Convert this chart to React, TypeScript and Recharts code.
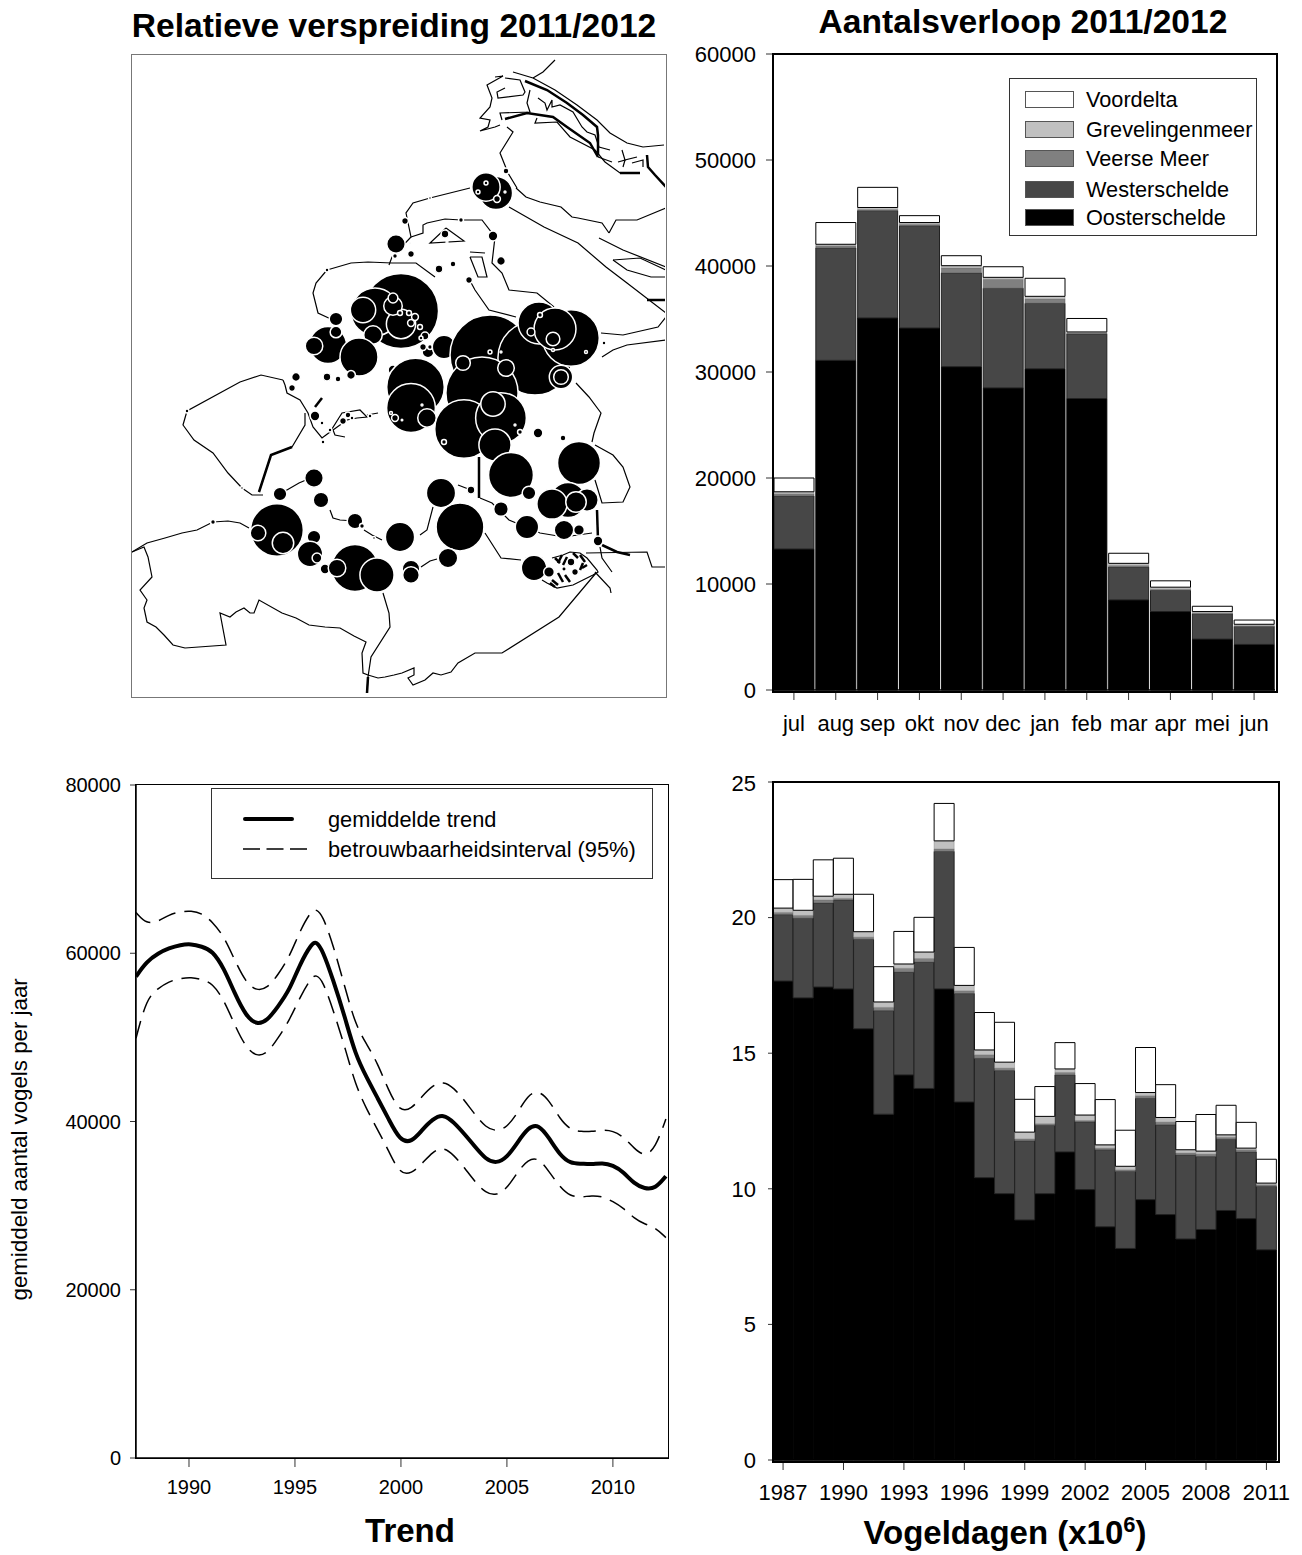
import React from 'react';
import { BarChart, Bar, XAxis, YAxis, ZAxis, Legend, LineChart, Line, ScatterChart, Scatter } from 'recharts';

const FONT = '"Liberation Sans", Arial, sans-serif';

// ---------- top right: monthly counts ----------
const months = ['jul','aug','sep','okt','nov','dec','jan','feb','mar','apr','mei','jun'];
const mOoster = [13300,31100,35100,34150,30500,28500,30300,27500,8500,7400,4800,4300];
const mWester = [5000,10600,10120,9650,8840,9400,6180,6080,3100,2000,2400,1700];
const mVeerse = [200,200,100,150,460,840,400,100,150,100,50,50];
const mGrevel = [200,150,200,150,230,190,260,100,200,200,150,150];
const mVoor = [1300,2050,1900,650,940,1000,1700,1270,950,600,500,400];
const monthTable = months.map((m, i) => ({ m, o: mOoster[i], w: mWester[i], v: mVeerse[i], g: mGrevel[i], d: mVoor[i] }));

// ---------- bottom right: bird days ----------
const seasons = [1987,1988,1989,1990,1991,1992,1993,1994,1995,1996,1997,1998,1999,2000,2001,2002,2003,2004,2005,2006,2007,2008,2009,2010,2011];
const yOoster = [17.66,17.04,17.44,17.37,15.9,12.75,14.2,13.7,17.37,13.2,10.41,9.82,8.85,9.82,11.36,9.97,8.6,7.8,9.6,9.05,8.15,8.5,9.2,8.9,7.75];
const yWester = [2.45,2.94,3.1,3.28,3.3,3.82,3.79,4.66,5.07,4.0,4.4,4.54,2.92,2.52,2.84,2.5,2.84,2.84,3.74,3.31,3.1,2.69,2.63,2.46,2.34];
const yVeerse = [0.08,0.1,0.11,0.06,0.08,0.12,0.14,0.13,0.09,0.1,0.13,0.09,0.07,0.06,0.09,0.05,0.06,0.06,0.09,0.1,0.07,0.09,0.07,0.08,0.06];
const yGrevel = [0.16,0.19,0.14,0.15,0.2,0.2,0.16,0.24,0.3,0.2,0.18,0.22,0.25,0.27,0.13,0.2,0.12,0.13,0.12,0.17,0.12,0.11,0.09,0.06,0.06];
const yVoor = [1.05,1.14,1.34,1.33,1.38,1.3,1.2,1.28,1.38,1.4,1.38,1.47,1.21,1.1,0.97,1.16,1.67,1.33,1.66,1.21,1.04,1.35,1.09,0.95,0.88];
const seasonTable = seasons.map((y, i) => ({ y, o: yOoster[i], w: yWester[i], v: yVeerse[i], g: yGrevel[i], d: yVoor[i] }));

// ---------- bottom left: trend ----------
const trendYears = [1987.5,1988,1988.55,1989.05,1989.6,1990.1,1990.6,1991.1,1991.65,1992.15,1992.7,1993.2,1993.7,1994.2,1994.75,1995.25,1995.8,1996,1996.3,1996.8,1997.35,1997.85,1998.4,1998.9,1999.4,1999.95,2000.5,2001,2001.5,2002,2002.5,2003,2003.5,2004,2004.5,2005,2005.5,2006,2006.5,2007,2007.5,2008,2008.5,2009,2009.5,2010,2010.5,2011,2011.5,2012,2012.5];
const trendMean = [57230,59020,60000,60600,61000,61120,60800,60330,58220,55250,52480,51490,52000,53670,55650,58820,61200,61400,60400,56840,52480,47920,45150,42770,40390,37700,37500,39000,40300,40900,39900,38500,37000,35500,35000,35700,37500,39300,39700,38000,36000,35000,35000,34900,35100,34800,34000,32600,32000,32000,33500];
const trendUpper = [64850,63450,63770,64570,64960,65040,64760,63770,61990,59210,56440,55530,55840,57430,59610,62780,65160,65200,64570,61000,56040,51490,49110,46930,43760,41100,41500,43000,44300,44800,44000,42500,40800,39300,38800,39300,41000,43200,43700,42500,40300,39000,38800,38800,39000,38900,38200,36800,35800,36800,40300];
const trendLower = [49900,54650,55840,56640,57030,57160,56910,56440,54460,51490,48710,47720,48110,49900,52080,54860,57230,57400,56840,53270,48910,44350,41380,39000,36620,33700,33800,35000,36400,37000,36000,34500,32800,31500,31200,32000,34000,35500,35700,34000,32200,31100,31000,31200,31100,30500,29700,28500,27800,27400,26200];
const trendTable = trendYears.map((t, i) => ({ t, mean: trendMean[i], up: trendUpper[i], lo: trendLower[i] }));

// ---------- top left: map (map grid units; third value = sqrt of the count) ----------
const sites: number[][] = [
[496,193,17],[486,187,14.5],[486,183,2],[478,192,2],[505,192,1],[497,199,3.5],[506,171,3],[430,198,1.5],[405,221,3.5],[396,244,9.5],[395,256,2.5],[411,254,3.5],[445,234,4],[461,220,2.5],[493,236,5],[501,261,4.5],[439,269,4],[453,264,3],[469,280,3.5],[327,270,2],[410,243,1],[447,242,1],
[401,311,38.5],[375,312,24.5],[363,310,13],[401,324,15],[393,306,9.5],[393,298,5],[373,335,9.5],[409,313,2.5],[415,317,3.5],[411,323,3.5],[420,327,2.5],[400,313,2.5],[425,336,4],[421,338,2],[428,352,6],[423,347,3.5],[430,347,2.5],[444,347,12],
[336,319,7],[328,345,19],[336,332,6],[314,346,9],[359,357,19.5],[393,370,5],
[415.5,387,29.5],[490,355,41],[535,358,38],[571,338,29],[539,323,21.5],[555,329,21.5],[540,315,2.5],[531,332,4],[553,339,7],[586,352,1.5],[553,350,1.5],[490,352,2],[501,352,1],[604,343,2],
[561,377,12],[561,377,7.5],[296,377,4.5],[327,377,4],[338,379,3],[351,375,4.5],
[482,393,37],[463,363,7.5],[506,368,8.5],[411,408,25],[427,418,9.5],[395,418,3.5],[391,413,1.5],[422,405,1],[402,420,0.8],
[464,429,30],[501,418,26],[493,404,12.5],[495,445,16.5],[444,442,2.5],[515,425,1],[520,432,2.5],[538,433,5],[563,438,3],
[579,463,22],[511,475,23],[529,493,7],[568,500,18],[552,504,15.5],[587,500,11.5],[576,502,10.5],[441,493,15],[471,490,4],[501,509,7.5],[527,527,12],[564,530,10],[579,530,5.5],[598,541,5],
[460,527,24.5],[448,558,10],[400,537,15],[355,521,8],[362,526,2.5],[374,538,1.5],[314,478,9.5],[321,500,8],[280,494,7],
[277,530,27],[258,533,8],[283,543,11],[314,537,7],[310,554,13],[317,558,5],[325,569,5],[355,568,24],[337,568,9],[377,575,17.5],[411,569,9],[411,575,8.5],
[534,568,13],[549,572,5.5],[571,562,4],[575,572,3.5],[564,569,2.3],[213,522,2.5],[187,411,2],[242,488,1.5],[315,416,5],[343,421,3.5],[348,415,3],[352,418,2],[322,423,2],[330,430,2],[323,442,2],[370,416,2],[292,388,3.5],[426,523,1],
];
const siteTable = sites.map(([x, y, r]) => ({ x, y, z: r * r }));

const coastLines: number[][][] = [
[[132,552],[144,547],[148,557],[152,577],[140,590],[147,600],[144,608],[147,622],[156,627],[164,635],[173,645],[185,648],[226,645],[220,613],[230,617],[236,612],[244,608],[250,613],[254,613],[259,600],[282,613],[296,618],[309,625],[325,627],[340,628],[354,636],[366,642],[362,653],[363,673],[368,675],[378,678],[385,677],[394,675],[402,673],[414,668],[414,675],[408,678],[413,685],[425,680],[433,673],[441,675],[451,672],[458,663],[475,653],[502,653],[559,617],[596,573]],
[[383,593],[389,613],[390,627],[371,657],[368,677],[367,693]],
[[132,552],[147,543],[165,538],[182,533],[197,530],[213,522],[228,521],[240,523],[249,528]],
[[283,380],[261,375],[240,382],[187,411],[183,425],[194,440],[213,453],[228,473],[242,488],[252,495],[263,495]],
[[259,492],[271,455],[292,447],[305,425],[305,413]],
[[285,385],[287,393],[300,400],[308,413],[313,427],[322,438],[330,432],[342,413],[360,410],[367,417],[357,418],[347,420],[333,430],[335,435],[345,437]],
[[367,415],[378,413]],
[[285,385],[283,380]],
[[280,494],[299,483],[313,477]],[[330,510],[333,518],[340,520],[355,521]],[[364,530],[372,535],[382,540]],[[420,535],[427,530],[433,507]],[[458,485],[471,490]],
[[480,498],[492,503],[509,520],[540,533],[564,537],[592,533]],
[[485,533],[501,558],[521,560]],[[421,567],[430,561],[437,559]],
[[552,558],[563,555],[570,552],[580,553],[587,558],[597,570],[598,572],[593,575],[573,585],[557,588],[547,583],[542,580]],
[[586,553],[647,552],[652,567],[666,567]],[[600,547],[602,558],[612,572]],[[595,572],[610,588],[611,593]],
[[576,383],[589,397],[601,413],[594,433],[592,442]],
[[595,445],[613,455],[623,467],[630,487],[623,502],[602,503],[595,480]],
[[327,270],[351,263],[368,262],[392,263],[416,263],[435,277]],
[[327,270],[316,283],[313,293],[318,313],[333,320]],
[[470,188],[430,198],[413,203],[406,213],[411,237],[392,257],[389,265]],
[[411,237],[423,233],[423,225],[427,223],[445,219],[461,220],[482,220],[495,237],[492,263],[502,273],[509,290],[537,293],[554,307]],
[[468,277],[475,290],[489,310],[516,317]],
[[601,333],[623,335],[658,327],[666,317]],
[[602,357],[613,350],[627,345],[666,340]],
[[509,207],[544,227],[578,243],[606,267],[627,283],[666,313]],
[[516,188],[526,197],[540,202],[561,207],[572,217],[578,218],[602,223],[609,233]],
[[609,233],[616,220],[637,220],[666,208]],
[[599,238],[623,250],[666,267]],
[[613,260],[627,270],[651,277],[666,277]],[[613,260],[640,258],[666,270]],
[[555,60],[543,72],[533,78]],
[[513,72],[533,78],[555,90],[577,105],[597,120],[610,133],[627,143],[643,147],[664,145]],
[[495,77],[503,76],[487,85],[492,98],[490,107],[480,118],[490,120],[488,127],[480,131],[495,127],[500,125]],
[[505,78],[520,80],[525,92],[523,95],[498,98],[497,92],[505,88]],
[[530,90],[527,103],[530,112],[500,113],[502,120]],
[[538,98],[545,103],[547,110],[552,100],[552,107],[560,105],[573,112],[582,127],[587,132],[595,135],[599,147],[610,150]],
[[537,118],[535,123],[557,122],[570,137],[595,150],[605,162],[620,173],[640,173]],
[[598,157],[612,162]],
[[622,150],[625,160],[618,162]],[[637,157],[625,160],[623,167]],[[632,163],[643,160],[643,167]],
[[507,127],[513,132],[500,153],[508,173],[517,188]],
[[446,228],[430,243],[464,241],[446,228]],
[[470,252],[485,253]],
[[470,257],[478,277],[487,277],[482,257],[470,257]],
];
const coastTables = coastLines.map((l) => l.map(([x, y]) => ({ x, y })));

const dikeLines: number[][][] = [
[[479,457],[479,498]],[[597,510],[598,540]],[[602,545],[617,552],[630,555]],[[647,300],[666,300]],
[[368,677],[367,693]],[[259,492],[271,455],[292,447]],[[647,155],[648,167],[655,175],[666,187]],
[[525,81],[547,90],[567,103],[583,115],[597,127],[598,135],[598,155]],
[[505,119],[527,113],[553,117],[567,127],[590,143],[598,157]],
[[322,398],[315,407]],[[620,173],[640,173]],
[[555,558],[560,563]],[[562,555],[558,563]],[[567,557],[563,565]],[[573,553],[578,558]],[[580,555],[585,562]],[[583,563],[580,570]],[[587,565],[582,568]],[[558,573],[563,582]],[[565,575],[570,582]],[[552,580],[558,585]],[[550,583],[555,587]],
];
const dikeTables = dikeLines.map((l) => l.map(([x, y]) => ({ x, y })));

const legendRows = [
  ['Voordelta', '#ffffff'],
  ['Grevelingenmeer', '#c0c0c0'],
  ['Veerse Meer', '#808080'],
  ['Westerschelde', '#474747'],
  ['Oosterschelde', '#000000'],
];
const legendRowTops = [13, 43, 72, 103, 131];

const abs = (l: number, t: number, w: number, h: number): React.CSSProperties => ({ position: 'absolute', left: l, top: t, width: w, height: h });

const Title = ({ cx, top, size, children }: any) => (
  <div style={{ position: 'absolute', left: cx - 400, width: 800, top, textAlign: 'center', fontFamily: FONT, fontWeight: 700, fontSize: size, lineHeight: `${size + 4}px`, color: '#000' }}>{children}</div>
);

const Frame = ({ l, t, r, b, color = '#000', w = 2 }: any) => (
  <div style={{ position: 'absolute', left: l - w / 2, top: t - w / 2, width: r - l, height: b - t, border: `${w}px solid ${color}`, pointerEvents: 'none' }} />
);

const StackLegend = () => (
  <div style={{ position: 'relative', width: 248, height: 158, background: '#fff', border: '1px solid #333', boxSizing: 'border-box', fontFamily: FONT, fontSize: 21.7 }}>
    {legendRows.map(([name, c], i) => (
      <React.Fragment key={name}>
        <div style={{ position: 'absolute', left: 15, top: legendRowTops[i] - 1, width: 49, height: 17, background: c, border: '1px solid #555', boxSizing: 'border-box' }} />
        <div style={{ position: 'absolute', left: 76, top: legendRowTops[i] - 4, lineHeight: '24px', whiteSpace: 'nowrap', color: '#000', textAlign: 'left' }}>{name}</div>
      </React.Fragment>
    ))}
  </div>
);

const TrendLegend = () => (
  <div style={{ position: 'relative', width: 442, height: 91, background: '#fff', border: '1px solid #333', boxSizing: 'border-box', fontFamily: FONT, fontSize: 21.8, color: '#000' }}>
    <div style={{ position: 'absolute', left: 31, top: 28, width: 51, height: 4, background: '#000', borderRadius: 2 }} />
    <svg style={{ position: 'absolute', left: 31, top: 59 }} width="64" height="3"><line x1="0" y1="1" x2="64" y2="1" stroke="#000" strokeWidth="1.5" strokeDasharray="17 6.5" /></svg>
    <div style={{ position: 'absolute', left: 116, top: 19, lineHeight: '24px', whiteSpace: 'nowrap' }}>gemiddelde trend</div>
    <div style={{ position: 'absolute', left: 116, top: 49, lineHeight: '24px', whiteSpace: 'nowrap' }}>betrouwbaarheidsinterval (95%)</div>
  </div>
);

const tickBig = { fontFamily: FONT, fontSize: 22, fill: '#000' };
const tickSmall = { fontFamily: FONT, fontSize: 20, fill: '#000' };
const axisLine = { stroke: '#000', strokeWidth: 1.5 };
const tickLine = { stroke: '#333', strokeWidth: 1 };

const stackBars = (strokeW: number) => (
  <>
    <Bar dataKey="o" stackId="s" fill="#000000" stroke="#000" strokeWidth={strokeW} isAnimationActive={false} />
    <Bar dataKey="w" stackId="s" fill="#474747" stroke="#222" strokeWidth={strokeW} isAnimationActive={false} />
    <Bar dataKey="v" stackId="s" fill="#808080" stroke="#555" strokeWidth={0.5} isAnimationActive={false} />
    <Bar dataKey="g" stackId="s" fill="#c0c0c0" stroke="#888" strokeWidth={0.5} isAnimationActive={false} />
    <Bar dataKey="d" stackId="s" fill="#ffffff" stroke="#000" strokeWidth={strokeW} isAnimationActive={false} />
  </>
);

export default function App() {
  return (
    <div style={{ position: 'absolute', left: 0, top: 0, width: 1302, height: 1555, background: '#fff', overflow: 'hidden' }}>
      <Title cx={394} top={7} size={33.6}>Relatieve verspreiding 2011/2012</Title>
      <Title cx={1023} top={3} size={33.6}>Aantalsverloop 2011/2012</Title>
      <Title cx={410} top={1512} size={33}>Trend</Title>
      <Title cx={1005} top={1514} size={33}>Vogeldagen (x10<sup style={{ fontSize: 22, lineHeight: 0 }}>6</sup>)</Title>

      {/* map */}
      <div style={abs(131, 54, 534, 642)}>
        <ScatterChart width={534} height={642} margin={{ top: 0, right: 0, bottom: 0, left: 0 }}>
          <XAxis type="number" dataKey="x" domain={[131, 665]} allowDataOverflow hide />
          <YAxis type="number" dataKey="y" domain={[54, 696]} allowDataOverflow reversed hide width={0} />
          <ZAxis type="number" dataKey="z" domain={[0, 1600]} range={[0, Math.PI * 1600]} />
          {coastTables.map((t, i) => (
            <Scatter key={i} data={t} line={{ stroke: '#000', strokeWidth: 1.2 }} lineType="joint" shape={() => null as any} isAnimationActive={false} />
          ))}
          {dikeTables.map((t, i) => (
            <Scatter key={'d' + i} data={t} line={{ stroke: '#000', strokeWidth: 2.5 }} lineType="joint" shape={() => null as any} isAnimationActive={false} />
          ))}
          <Scatter data={siteTable} fill="#000" stroke="#fff" strokeWidth={1.5} isAnimationActive={false} />
        </ScatterChart>
      </div>
      <Frame l={131} t={54} r={665} b={696} color="#777" w={1} />

      {/* monthly */}
      <div style={abs(690, 40, 600, 700)}>
        <BarChart width={600} height={700} data={monthTable} margin={{ top: 14, right: 15, bottom: 0, left: 0 }} barCategoryGap={1}>
          <XAxis dataKey="m" tick={tickBig} axisLine={axisLine} tickLine={tickLine} tickSize={10} tickMargin={15} height={50} interval={0} />
          <YAxis width={83} domain={[0, 60000]} ticks={[0,10000,20000,30000,40000,50000,60000]} tick={tickBig} axisLine={axisLine} tickLine={tickLine} tickSize={7} tickMargin={10} />
          {stackBars(1)}
          <Legend layout="vertical" align="center" verticalAlign="middle" content={() => <StackLegend />} wrapperStyle={{ position: 'absolute', left: 319, top: 38, width: 248, height: 158 }} />
        </BarChart>
      </div>
      <Frame l={773} t={54} r={1275} b={690} />

      {/* trend */}
      <div style={abs(0, 770, 690, 730)}>
        <LineChart width={690} height={730} data={trendTable} margin={{ top: 15, right: 22, bottom: 0, left: 0 }}>
          <XAxis type="number" dataKey="t" domain={[1987.5, 2012.6]} allowDataOverflow ticks={[1990,1995,2000,2005,2010]} tick={tickSmall} axisLine={axisLine} tickLine={tickLine} tickSize={9} tickMargin={13} height={42} />
          <YAxis width={136} domain={[0, 80000]} ticks={[0,20000,40000,60000,80000]} tick={tickSmall} axisLine={axisLine} tickLine={tickLine} tickSize={6} tickMargin={9}
            label={{ value: 'gemiddeld aantal vogels per jaar', angle: -90, position: 'insideLeft', offset: 19, dy: 179, style: { fontFamily: FONT, fontSize: 22.3, fill: '#000' } }} />
          <Line type="basis" dataKey="up" stroke="#000" strokeWidth={1.5} strokeDasharray="18 9" dot={false} isAnimationActive={false} />
          <Line type="basis" dataKey="lo" stroke="#000" strokeWidth={1.5} strokeDasharray="18 9" dot={false} isAnimationActive={false} />
          <Line type="basis" dataKey="mean" stroke="#000" strokeWidth={4} dot={false} isAnimationActive={false} />
          <Legend layout="vertical" align="center" verticalAlign="middle" content={() => <TrendLegend />} wrapperStyle={{ position: 'absolute', left: 211, top: 18, width: 442, height: 91 }} />
        </LineChart>
      </div>
      <Frame l={136} t={785} r={668} b={1458} w={1.5} />

      {/* bird days */}
      <div style={abs(690, 770, 610, 760)}>
        <BarChart width={610} height={760} data={seasonTable} margin={{ top: 12, right: 23.5, bottom: 0, left: 0 }} barCategoryGap={0}>
          <XAxis dataKey="y" tick={tickBig} axisLine={axisLine} tickLine={tickLine} tickSize={10} tickMargin={14} height={70} interval={2} />
          <YAxis width={83} domain={[0, 25]} ticks={[0,5,10,15,20,25]} tick={tickBig} axisLine={axisLine} tickLine={tickLine} tickSize={5} tickMargin={12} />
          {stackBars(1)}
        </BarChart>
      </div>
      <Frame l={773} t={782} r={1277} b={1460} />
    </div>
  );
}
